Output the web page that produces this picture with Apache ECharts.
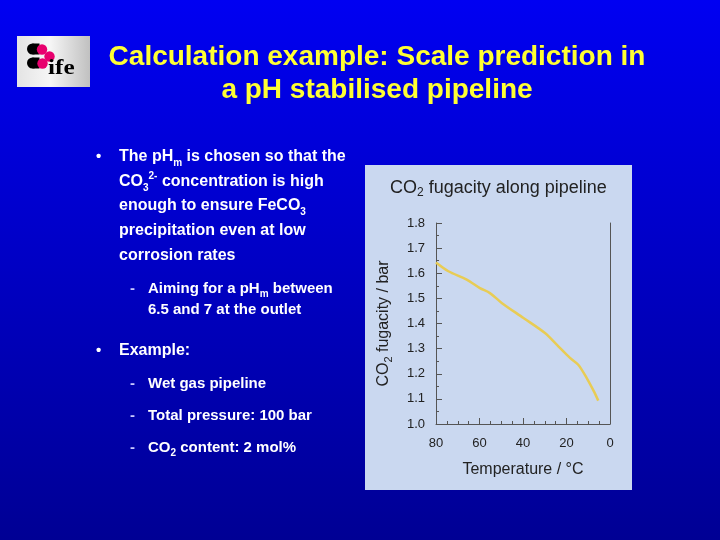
<!DOCTYPE html>
<html><head><meta charset="utf-8">
<script src="https://cdn.jsdelivr.net/npm/echarts@6/dist/echarts.min.js"></script>
<style>html,body{margin:0;padding:0;}#c{width:720px;height:540px;}</style>
</head><body><div id="c"></div>
<script>
// Data
var temperatures = [80, 74.3, 65.9, 59.8, 55.2, 49.8, 39.8, 29.9, 24.5, 18.4, 14.6, 10.7, 7.4, 5.4];
var fugacity = [1.643, 1.608, 1.575, 1.541, 1.521, 1.482, 1.422, 1.362, 1.316, 1.263, 1.236, 1.183, 1.130, 1.093];
var xTicks = [0, 20, 40, 60, 80];
var yTicks = [1.0, 1.1, 1.2, 1.3, 1.4, 1.5, 1.6, 1.7, 1.8];

var FONT = '"Liberation Sans", Arial, sans-serif';
var chart = echarts.init(document.getElementById('c'), null, {renderer: 'canvas'});

var seriesData = temperatures.map(function (t, i) { return [t, fugacity[i]]; });

function txt(x, y, text, rich) {
  return {type: 'text', x: x, y: y, z: 10, style: {text: text, rich: rich, x: 0, y: 0, verticalAlign: 'middle', align: 'left'}};
}
function mkRich(size, subSize, color, weight, lh) {
  return {
    n: {fontFamily: FONT, fontSize: size, fontWeight: weight, fill: color, color: color, lineHeight: lh},
    s: {fontFamily: FONT, fontSize: subSize, fontWeight: weight, fill: color, color: color, lineHeight: lh / 2, verticalAlign: 'bottom'},
    p: {fontFamily: FONT, fontSize: subSize, fontWeight: weight, fill: color, color: color, lineHeight: lh / 2, verticalAlign: 'top'}
  };
}
var mainRich = mkRich(16, 10, '#ffffff', 'bold', 22);
var subRich = mkRich(15, 10, '#ffffff', 'bold', 20);
var titleRich = mkRich(18, 12, '#222222', 'normal', 22);
var axisNameRich = mkRich(16, 11, '#222222', 'normal', 20);

function bullet(y) { return {type: 'text', x: 96, y: y, z: 10, style: {text: '•', fontFamily: FONT, fontSize: 15, fontWeight: 'bold', fill: '#ffffff', verticalAlign: 'middle'}}; }
function dash(y) { return {type: 'text', x: 130, y: y, z: 10, style: {text: '-', fontFamily: FONT, fontSize: 15, fontWeight: 'bold', fill: '#c8c8ff', verticalAlign: 'middle'}}; }

var graphics = [
  {type: 'rect', z: -20, shape: {x: 0, y: 0, width: 720, height: 540}, style: {fill: {type: 'linear', x: 0, y: 0, x2: 0, y2: 1, colorStops: [{offset: 0, color: '#0000f2'}, {offset: 0.45, color: '#0000c8'}, {offset: 1, color: '#000094'}]}}},
  {type: 'rect', z: -10, shape: {x: 365, y: 165, width: 267, height: 325}, style: {fill: '#cad8f0'}},
  // logo
  {type: 'rect', z: 5, shape: {x: 17, y: 36, width: 73, height: 51}, style: {fill: {type: 'linear', x: 0, y: 0, x2: 1, y2: 0, colorStops: [{offset: 0, color: '#e4e4e4'}, {offset: 0.45, color: '#f6f6f6'}, {offset: 1, color: '#c0c0c0'}]}}},
  {type: 'circle', z: 6, shape: {cx: 32.5, cy: 49, r: 5.5}, style: {fill: '#000000'}},
  {type: 'circle', z: 6, shape: {cx: 32.5, cy: 63, r: 5.5}, style: {fill: '#000000'}},
  {type: 'rect', z: 6, shape: {x: 32.5, y: 43.5, width: 7, height: 11}, style: {fill: '#000000'}},
  {type: 'rect', z: 6, shape: {x: 32.5, y: 57.5, width: 7, height: 11}, style: {fill: '#000000'}},
  {type: 'circle', z: 7, shape: {cx: 42, cy: 49.5, r: 5.2}, style: {fill: '#e8006e'}},
  {type: 'circle', z: 7, shape: {cx: 49.5, cy: 56.5, r: 5.2}, style: {fill: '#e8006e'}},
  {type: 'circle', z: 7, shape: {cx: 42.5, cy: 63.5, r: 5.2}, style: {fill: '#e8006e'}},
  {type: 'text', z: 8, x: 48, y: 79, scaleX: 1.2, style: {text: 'ife', fontFamily: '"Liberation Serif", serif', fontWeight: 'bold', fontSize: 21, fill: '#000000', verticalAlign: 'bottom'}},
  // title
  {type: 'text', z: 10, x: 377, y: 57, style: {text: 'Calculation example: Scale prediction in', fontFamily: FONT, fontSize: 28, fontWeight: 'bold', fill: '#ffff33', align: 'center', verticalAlign: 'middle'}},
  {type: 'text', z: 10, x: 377, y: 90, style: {text: 'a pH stabilised pipeline', fontFamily: FONT, fontSize: 28, fontWeight: 'bold', fill: '#ffff33', align: 'center', verticalAlign: 'middle'}},
  // body text
  bullet(157),
  txt(119, 157, '{n|The pH}{s|m}{n| is chosen so that the}', mainRich),
  txt(119, 182, '{n|CO}{s|3}{p|2-}{n| concentration is high}', mainRich),
  txt(119, 206, '{n|enough to ensure FeCO}{s|3}', mainRich),
  txt(119, 231, '{n|precipitation even at low}', mainRich),
  txt(119, 256, '{n|corrosion rates}', mainRich),
  dash(289),
  txt(148, 289, '{n|Aiming for a pH}{s|m}{n| between}', subRich),
  txt(148, 310, '{n|6.5 and 7 at the outlet}', subRich),
  bullet(351),
  txt(119, 351, '{n|Example:}', mainRich),
  dash(384),
  txt(148, 384, '{n|Wet gas pipeline}', subRich),
  dash(416),
  txt(148, 416, '{n|Total pressure: 100 bar}', subRich),
  dash(448),
  txt(148, 448, '{n|CO}{s|2}{n| content: 2 mol%}', subRich),
  // chart title
  txt(390, 188, '{n|CO}{s|2}{n| fugacity along pipeline}', titleRich)
];

chart.setOption({
  animation: false,
  backgroundColor: '#0000c0',
  graphic: graphics,
  grid: {left: 436, top: 223, width: 174, height: 201, containLabel: false},
  xAxis: {
    type: 'value', min: 0, max: 80, interval: 20, inverse: true,
    name: 'Temperature / °C', nameLocation: 'middle', nameGap: 38,
    nameTextStyle: {fontFamily: FONT, fontSize: 16, color: '#222222'},
    axisLine: {show: true, onZero: false, lineStyle: {color: '#555555', width: 1}},
    axisTick: {show: true, inside: true, length: 6, lineStyle: {color: '#555555'}},
    minorTick: {show: true, splitNumber: 4, length: 3, lineStyle: {color: '#555555'}},
    axisLabel: {margin: 13, fontFamily: FONT, fontSize: 13, color: '#222222',
      formatter: function (v) { return xTicks.indexOf(v) >= 0 ? String(v) : ''; }},
    splitLine: {show: false}
  },
  yAxis: [{
    type: 'value', min: 1.0, max: 1.8, interval: 0.1,
    name: '{n|CO}{s|2}{n| fugacity / bar}', nameLocation: 'middle', nameGap: 42, nameRotate: 90,
    nameTextStyle: {rich: axisNameRich},
    axisLine: {show: true, onZero: false, lineStyle: {color: '#555555', width: 1}},
    axisTick: {show: true, inside: true, length: 6, lineStyle: {color: '#555555'}},
    minorTick: {show: true, splitNumber: 2, length: 3, lineStyle: {color: '#555555'}},
    axisLabel: {margin: 11, fontFamily: FONT, fontSize: 13, color: '#222222',
      formatter: function (v) { return yTicks.some(function (t) { return Math.abs(t - v) < 1e-6; }) ? v.toFixed(1) : ''; }},
    splitLine: {show: false}
  }, {
    type: 'value', min: 1.0, max: 1.8, interval: 0.1, position: 'right',
    axisLine: {show: true, lineStyle: {color: '#555555', width: 1}},
    axisTick: {show: false}, axisLabel: {show: false}, splitLine: {show: false}
  }],
  series: [{
    type: 'line', data: seriesData, yAxisIndex: 0, smooth: 0.3, showSymbol: false,
    lineStyle: {color: '#e8cc55', width: 2.5}
  }]
});
</script></body></html>
